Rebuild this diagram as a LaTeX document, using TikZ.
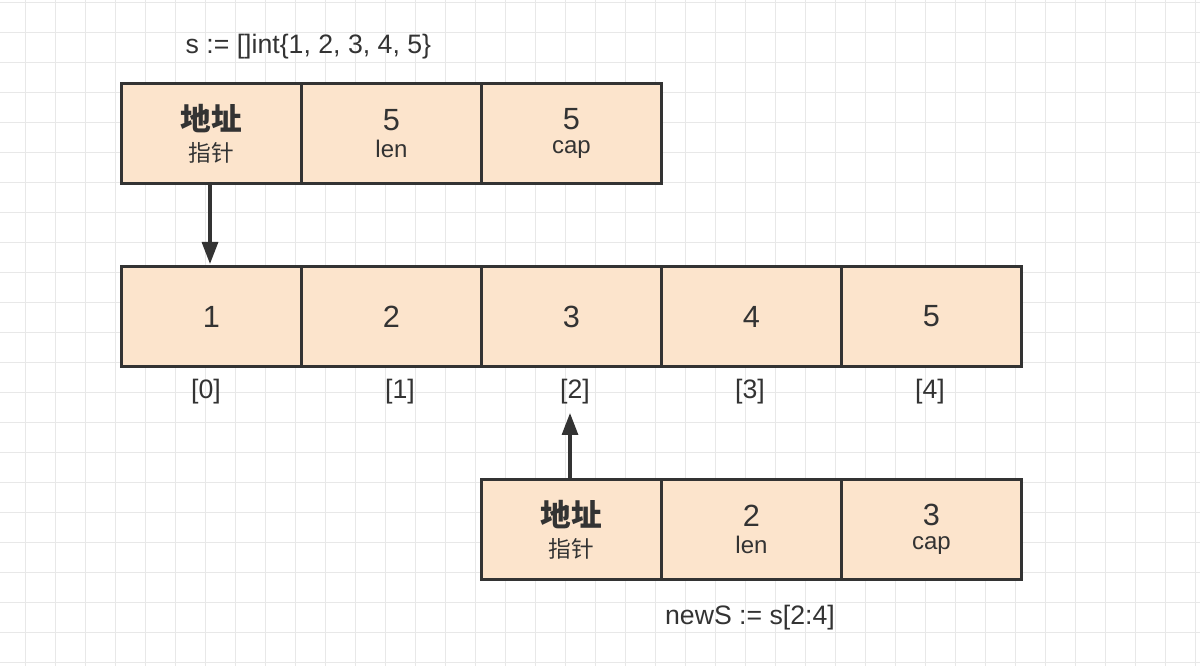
\documentclass[tikz,border=0pt]{standalone}
\usepackage{fontspec}
\setmainfont{Liberation Sans}
\newfontfamily\cjk{Noto Sans CJK SC}
\usetikzlibrary{arrows.meta}
\definecolor{boxfill}{HTML}{FCE4CC}
\definecolor{ink}{HTML}{333333}
\definecolor{gridc}{HTML}{E8E8E8}
\newcommand\mybigf{\fontsize{23}{26}\selectfont}
\newcommand\mylblf{\fontsize{20}{22}\selectfont}
\newcommand\mysubf{\fontsize{18}{20}\selectfont}
\begin{document}
\begin{tikzpicture}[x=0.75pt,y=-0.75pt,
  cell/.style={draw=ink,line width=2.2pt,fill=boxfill,minimum width=180*0.75pt,minimum height=100*0.75pt,inner sep=0pt,anchor=north west,align=center,text=ink},
  big/.style={font=\mybigf},
  lbl/.style={text=ink,font=\mylblf},
  arr/.style={-{Triangle[length=22*0.75pt,width=16*0.75pt]}}]
\useasboundingbox (0,0) rectangle (1200,666);
\foreach \x in {25,55,...,1200} \draw[gridc,line width=0.7pt] (\x,0) -- (\x,666);
\foreach \y in {2,32,...,666} \draw[gridc,line width=0.7pt] (0,\y) -- (1200,\y);
\node[lbl,anchor=west] (t1) at (181,47) {s := []int\{1, 2, 3, 4, 5\}};
\node[cell] (a) at (120,82) {{\cjk\bfseries\fontsize{23}{26}\selectfont 地址}\\[6pt]{\cjk\fontsize{17}{20}\selectfont 指针}};
\node[cell] (b) at (300,82) {{\mybigf 5}\\[6pt]{\mysubf len}};
\node[cell] (c) at (480,82) {{\mybigf 5}\\[6pt]{\mysubf cap}};
\foreach \i/\v in {0/1,1/2,2/3,3/4,4/5}
  \node[cell,big] (m\i) at (120+180*\i,265) {\v};
\node[lbl] (l0) at (206,392) {[0]};
\node[lbl] (l1) at (400,392) {[1]};
\node[lbl] (l2) at (575,392) {[2]};
\node[lbl] (l3) at (750,392) {[3]};
\node[lbl] (l4) at (930,392) {[4]};
\node[cell] (d) at (480,478) {{\cjk\bfseries\fontsize{23}{26}\selectfont 地址}\\[6pt]{\cjk\fontsize{17}{20}\selectfont 指针}};
\node[cell] (e) at (660,478) {{\mybigf 2}\\[6pt]{\mysubf len}};
\node[cell] (f) at (840,478) {{\mybigf 3}\\[6pt]{\mysubf cap}};
\node[lbl] (t2) at (750,618) {newS := s[2:4]};
\coordinate (p1) at (210,182);
\coordinate (p2) at (210,264);
\draw[arr,draw=ink,fill=ink,line width=2.3pt] (p1) -- (p2);
\coordinate (q1) at (570,478);
\coordinate (q2) at (570,413);
\draw[arr,draw=ink,fill=ink,line width=2.3pt] (q1) -- (q2);
\end{tikzpicture}
\end{document}
